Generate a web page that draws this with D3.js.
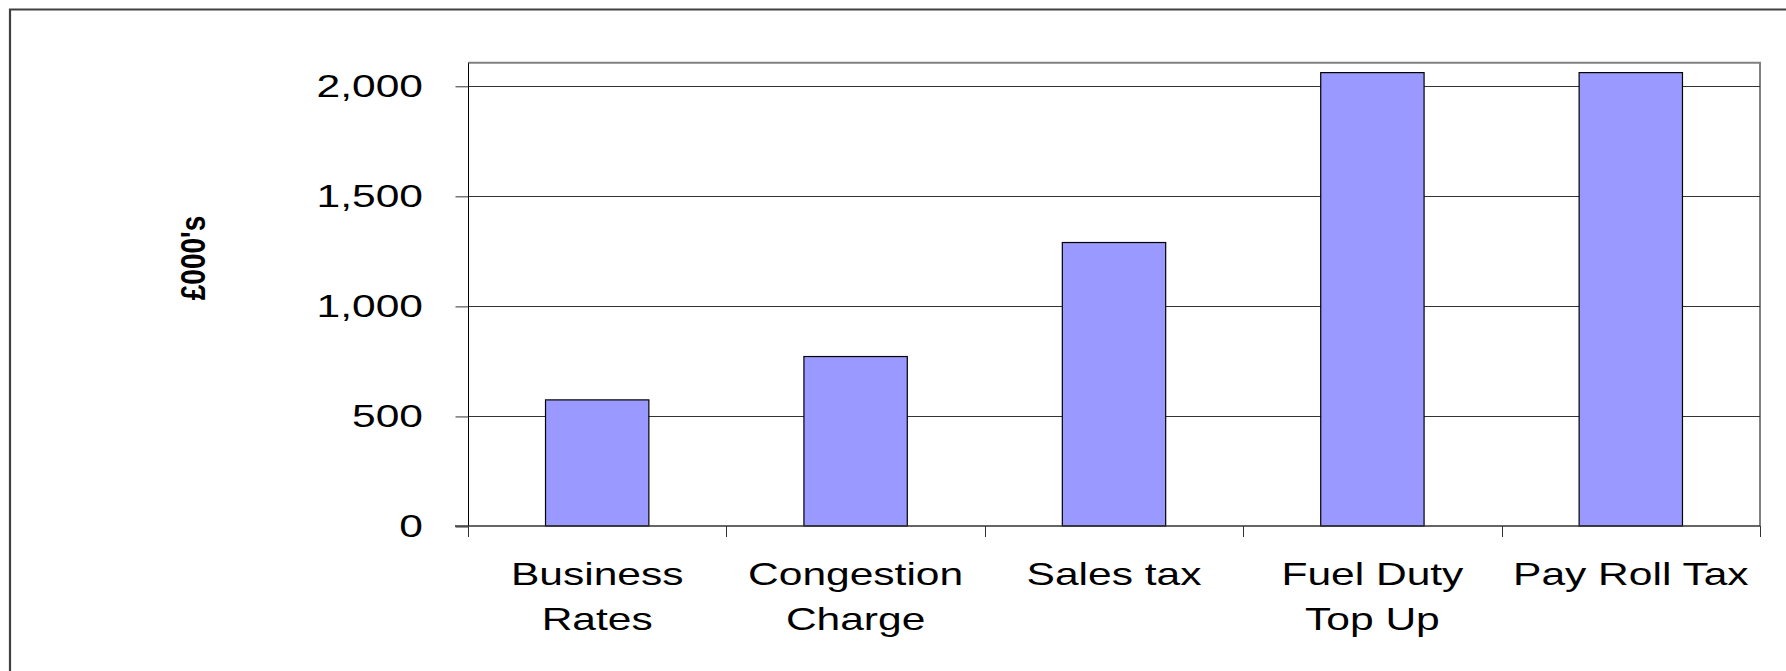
<!DOCTYPE html>
<html>
<head>
<meta charset="utf-8">
<script src="https://cdn.jsdelivr.net/npm/d3@7"></script>
<style>
  html, body { margin: 0; padding: 0; background: #fff; }
  svg { display: block; }
  text { font-family: "Liberation Sans", Arial, sans-serif; fill: #000; }
</style>
</head>
<body>
<svg id="chart" width="1786" height="671"></svg>
<script>
const categories = ["Business Rates", "Congestion Charge", "Sales tax", "Fuel Duty Top Up", "Pay Roll Tax"];
const categoryLines = [["Business", "Rates"], ["Congestion", "Charge"], ["Sales tax"], ["Fuel Duty", "Top Up"], ["Pay Roll Tax"]];
const values = [573, 770, 1288, 2060, 2060];
const yTicks = [0, 500, 1000, 1500, 2000];
const yMax = 2105;
const yTitle = "£000's";

const svg = d3.select("#chart");
const W = 1786, H = 671;
const plot = { left: 468, right: 1760, top: 62.7, bottom: 526 };
const SX = 1.35; // horizontal stretch of text in the original

// outer frame (left + top visible)
svg.append("path")
  .attr("d", `M10,${H} L10,9.5 L${W},9.5`)
  .attr("fill", "none").attr("stroke", "#404040").attr("stroke-width", 2.2);

const y = d3.scaleLinear().domain([0, yMax]).range([plot.bottom, plot.top]);
const xCat = d3.scaleBand().domain(categories).range([plot.left, plot.right]).padding(0);
const xBar = d3.scaleBand().domain(categories).range([plot.left, plot.right])
  .paddingInner(0.6).paddingOuter(0.3);

// plot area border (top and right, gray)
svg.append("path")
  .attr("d", `M${plot.left},${plot.top} L${plot.right},${plot.top} L${plot.right},${plot.bottom}`)
  .attr("fill", "none").attr("stroke", "#808080").attr("stroke-width", 2);

// gridlines
svg.append("g").selectAll("line").data(yTicks.filter(d => d > 0)).join("line")
  .attr("x1", plot.left).attr("x2", plot.right)
  .attr("y1", d => Math.round(y(d)) + 0.5).attr("y2", d => Math.round(y(d)) + 0.5)
  .attr("stroke", "#333").attr("stroke-width", 1);

// y axis
const yAxis = d3.axisLeft(y).tickValues(yTicks).tickSize(13).tickPadding(0).tickFormat(() => "");
const gy = svg.append("g").attr("transform", `translate(${plot.left + 0.5},0.5)`).call(yAxis);
gy.select(".domain").attr("stroke", "#000").attr("stroke-width", 1).attr("d", `M0,${plot.top} V${plot.bottom + 10}`);
gy.selectAll(".tick line").attr("stroke", "#333");

// y tick labels (stretched)
svg.append("g").selectAll("text").data(yTicks).join("text")
  .attr("transform", d => `translate(423,${y(d)}) scale(${SX},1)`)
  .attr("text-anchor", "end").attr("dy", "0.36em")
  .attr("font-size", 31.5)
  .text(d => d3.format(",")(d));

// bars
svg.append("g").selectAll("rect").data(categories).join("rect")
  .attr("x", d => xBar(d))
  .attr("width", xBar.bandwidth())
  .attr("y", (d, i) => y(values[i]))
  .attr("height", (d, i) => y(0) - y(values[i]))
  .attr("fill", "#9999FF").attr("stroke", "#000").attr("stroke-width", 1.2);

// x axis line + ticks
svg.append("line")
  .attr("x1", plot.left - 13).attr("x2", plot.right)
  .attr("y1", plot.bottom).attr("y2", plot.bottom)
  .attr("stroke", "#333").attr("stroke-width", 1.5);
const xTickPos = categories.map(c => xCat(c)).concat([plot.right]);
svg.append("g").selectAll("line").data(xTickPos).join("line")
  .attr("x1", d => Math.round(d) + 0.5).attr("x2", d => Math.round(d) + 0.5)
  .attr("y1", plot.bottom).attr("y2", plot.bottom + 11)
  .attr("stroke", "#333").attr("stroke-width", 1);

// x category labels
const gl = svg.append("g");
categories.forEach((c, i) => {
  const cx = xCat(c) + xCat.bandwidth() / 2;
  categoryLines[i].forEach((line, j) => {
    gl.append("text")
      .attr("transform", `translate(${cx},${585 + j * 45}) scale(${SX},1)`)
      .attr("text-anchor", "middle")
      .attr("font-size", 31.5)
      .text(line);
  });
});

// y title
svg.append("text")
  .attr("transform", `translate(205,258) rotate(-90) scale(1,1.28)`)
  .attr("text-anchor", "middle")
  .attr("font-size", 28).attr("font-weight", "bold")
  .text(yTitle);
</script>
</body>
</html>
